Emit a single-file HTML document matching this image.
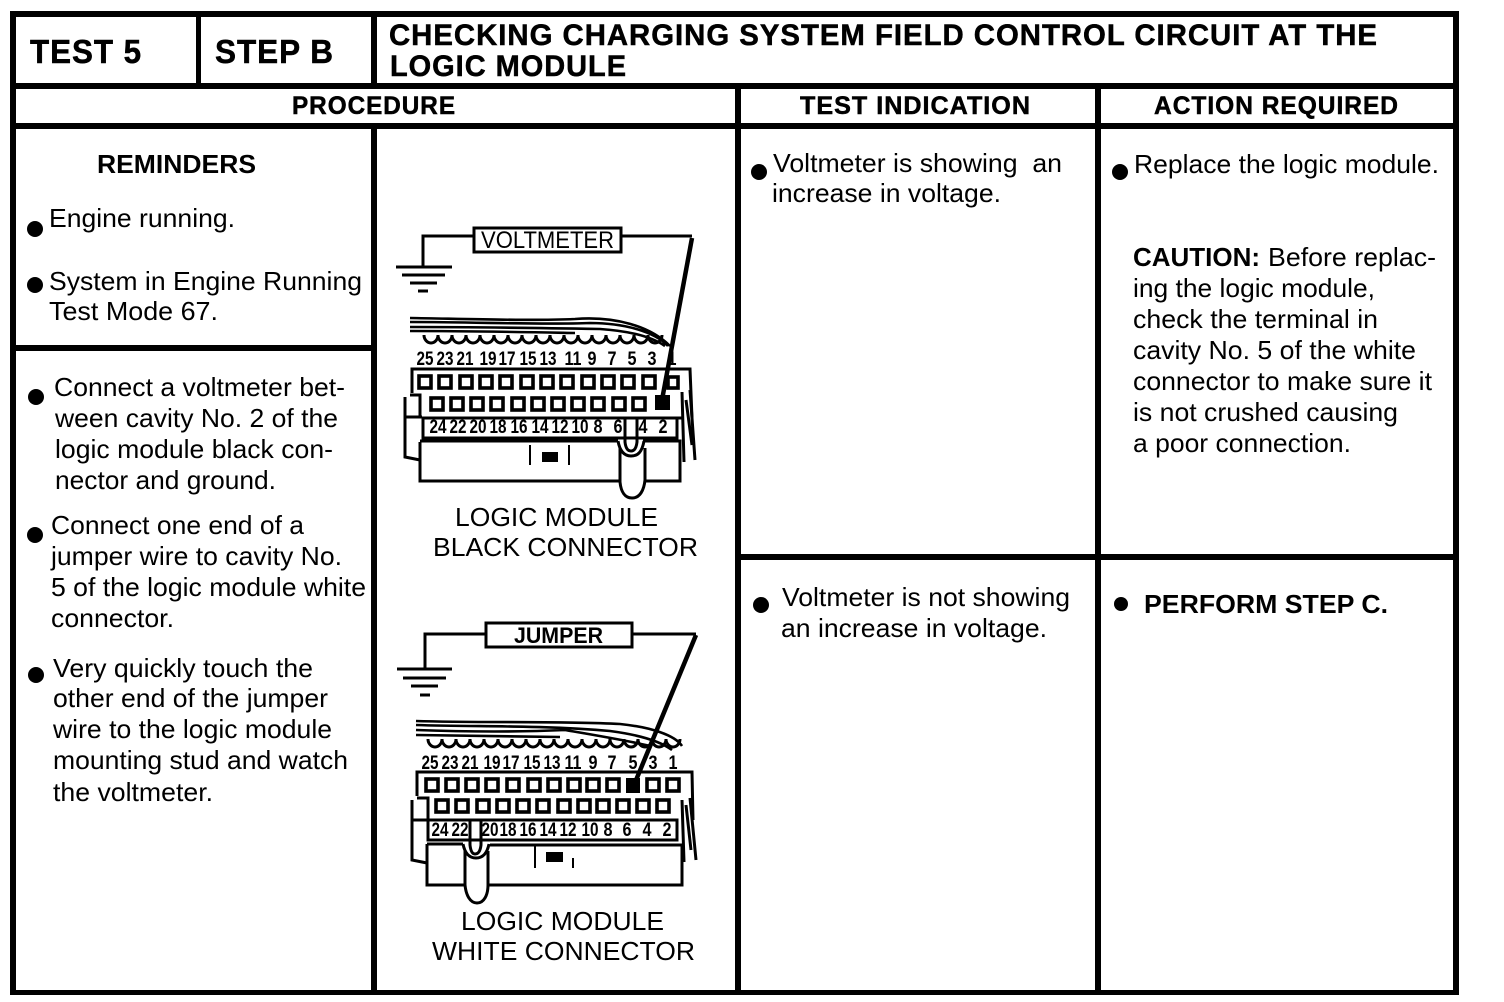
<!DOCTYPE html>
<html>
<head>
<meta charset="utf-8">
<style>
html,body{margin:0;padding:0;background:#fff}
svg{display:block}
text{font-family:"Liberation Sans",sans-serif;fill:#000;white-space:pre}
.b{font-size:26px}
.h{font-size:30px;font-weight:bold;stroke:#000;stroke-width:.5px;letter-spacing:1px}
.s{font-size:33px}
.m{font-size:25px}
.p,.q{font-size:19px;font-weight:bold;text-anchor:middle}
.l{fill:none;stroke:#000}
</style>
</head>
<body>
<svg width="1504" height="1002" viewBox="0 0 1504 1002" xmlns="http://www.w3.org/2000/svg">
<rect width="1504" height="1002" fill="#fff"/>
<!-- table frame -->
<g fill="#000">
<rect x="10" y="11" width="1449" height="6"/>
<rect x="10" y="990" width="1449" height="5"/>
<rect x="10" y="11" width="6" height="984"/>
<rect x="1453" y="11" width="6" height="984"/>
<rect x="10" y="83" width="1449" height="6"/>
<rect x="10" y="123" width="1449" height="6"/>
<rect x="196" y="11" width="5" height="75"/>
<rect x="371" y="11" width="6" height="75"/>
<rect x="371" y="123" width="6" height="870"/>
<rect x="735" y="86" width="6" height="907"/>
<rect x="1095" y="86" width="6" height="907"/>
<rect x="13" y="345" width="361" height="6"/>
<rect x="738" y="554" width="718" height="6"/>
</g>
<!-- headers -->
<text class="h s" x="30" y="63" textLength="112" lengthAdjust="spacingAndGlyphs">TEST 5</text>
<text class="h s" x="215" y="63" textLength="119" lengthAdjust="spacingAndGlyphs">STEP B</text>
<text class="h" x="389" y="45" textLength="989" lengthAdjust="spacingAndGlyphs">CHECKING CHARGING SYSTEM FIELD CONTROL CIRCUIT AT THE</text>
<text class="h" x="390" y="76" textLength="237" lengthAdjust="spacingAndGlyphs">LOGIC MODULE</text>
<text class="h m" x="292" y="114" textLength="164" lengthAdjust="spacingAndGlyphs">PROCEDURE</text>
<text class="h m" x="800" y="114" textLength="231" lengthAdjust="spacingAndGlyphs">TEST INDICATION</text>
<text class="h m" x="1154" y="114" textLength="245" lengthAdjust="spacingAndGlyphs">ACTION REQUIRED</text>
<!-- left column -->
<text class="b" x="97" y="173" font-weight="bold" textLength="159" lengthAdjust="spacingAndGlyphs">REMINDERS</text>
<circle cx="35" cy="229" r="8"/>
<text class="b" x="49" y="227" textLength="186" lengthAdjust="spacingAndGlyphs">Engine running.</text>
<circle cx="35" cy="285" r="8"/>
<text class="b" x="49" y="290" textLength="313" lengthAdjust="spacingAndGlyphs">System in Engine Running</text>
<text class="b" x="49" y="320" textLength="169" lengthAdjust="spacingAndGlyphs">Test Mode 67.</text>
<circle cx="36" cy="397" r="8"/>
<text class="b" x="54" y="396" textLength="291" lengthAdjust="spacingAndGlyphs">Connect a voltmeter bet-</text>
<text class="b" x="55" y="427" textLength="283" lengthAdjust="spacingAndGlyphs">ween cavity No. 2 of the</text>
<text class="b" x="55" y="458" textLength="278" lengthAdjust="spacingAndGlyphs">logic module black con-</text>
<text class="b" x="55" y="489" textLength="221" lengthAdjust="spacingAndGlyphs">nector and ground.</text>
<circle cx="35" cy="535" r="8"/>
<text class="b" x="51" y="534" textLength="253" lengthAdjust="spacingAndGlyphs">Connect one end of a</text>
<text class="b" x="51" y="565" textLength="291" lengthAdjust="spacingAndGlyphs">jumper wire to cavity No.</text>
<text class="b" x="51" y="596" textLength="315" lengthAdjust="spacingAndGlyphs">5 of the logic module white</text>
<text class="b" x="51" y="627" textLength="123" lengthAdjust="spacingAndGlyphs">connector.</text>
<circle cx="36" cy="675" r="8"/>
<text class="b" x="53" y="677" textLength="260" lengthAdjust="spacingAndGlyphs">Very quickly touch the</text>
<text class="b" x="53" y="707" textLength="275" lengthAdjust="spacingAndGlyphs">other end of the jumper</text>
<text class="b" x="53" y="738" textLength="279" lengthAdjust="spacingAndGlyphs">wire to the logic module</text>
<text class="b" x="53" y="769" textLength="295" lengthAdjust="spacingAndGlyphs">mounting stud and watch</text>
<text class="b" x="53" y="801" textLength="160" lengthAdjust="spacingAndGlyphs">the voltmeter.</text>
<!-- test indication -->
<circle cx="759" cy="172" r="8"/>
<text class="b" x="773" y="172" textLength="289" lengthAdjust="spacingAndGlyphs">Voltmeter is showing  an</text>
<text class="b" x="772" y="202" textLength="229" lengthAdjust="spacingAndGlyphs">increase in voltage.</text>
<circle cx="761" cy="605" r="8"/>
<text class="b" x="782" y="606" textLength="288" lengthAdjust="spacingAndGlyphs">Voltmeter is not showing</text>
<text class="b" x="781" y="637" textLength="266" lengthAdjust="spacingAndGlyphs">an increase in voltage.</text>
<!-- action required -->
<circle cx="1120" cy="172" r="8"/>
<text class="b" x="1134" y="173" textLength="305" lengthAdjust="spacingAndGlyphs">Replace the logic module.</text>
<text class="b" x="1133" y="266" font-weight="bold" textLength="127" lengthAdjust="spacingAndGlyphs">CAUTION:</text>
<text class="b" x="1268" y="266" textLength="168" lengthAdjust="spacingAndGlyphs">Before replac-</text>
<text class="b" x="1133" y="297" textLength="242" lengthAdjust="spacingAndGlyphs">ing the logic module,</text>
<text class="b" x="1133" y="328" textLength="245" lengthAdjust="spacingAndGlyphs">check the terminal in</text>
<text class="b" x="1133" y="359" textLength="283" lengthAdjust="spacingAndGlyphs">cavity No. 5 of the white</text>
<text class="b" x="1133" y="390" textLength="299" lengthAdjust="spacingAndGlyphs">connector to make sure it</text>
<text class="b" x="1133" y="421" textLength="265" lengthAdjust="spacingAndGlyphs">is not crushed causing</text>
<text class="b" x="1133" y="452" textLength="218" lengthAdjust="spacingAndGlyphs">a poor connection.</text>
<circle cx="1121" cy="604" r="7"/>
<text class="b" x="1144" y="613" font-weight="bold" textLength="244" lengthAdjust="spacingAndGlyphs">PERFORM STEP C.</text>
<!-- captions -->
<text class="b" x="455" y="526" textLength="203" lengthAdjust="spacingAndGlyphs">LOGIC MODULE</text>
<text class="b" x="433" y="556" textLength="265" lengthAdjust="spacingAndGlyphs">BLACK CONNECTOR</text>
<text class="b" x="461" y="930" textLength="203" lengthAdjust="spacingAndGlyphs">LOGIC MODULE</text>
<text class="b" x="432" y="960" textLength="263" lengthAdjust="spacingAndGlyphs">WHITE CONNECTOR</text>

<!-- DIAGRAM 1 -->
<rect x="474" y="228" width="147" height="24" fill="#fff" stroke="#000" stroke-width="3"/>
<text x="481" y="248" font-size="24" textLength="133" lengthAdjust="spacingAndGlyphs">VOLTMETER</text>
<path class="l" stroke-width="3" d="M473 236H423V266"/>
<path class="l" stroke-width="3" d="M396 267H452M402 275H445M410 283H437M418 291H428"/>
<path class="l" stroke-width="3" d="M622 236H692"/>
<path class="l" stroke-width="2.6" d="M410 318C470 319 530 321 575 319C615 316 650 326 670 346M410 322C480 322 540 325 590 323C625 323 655 332 668 346M410 327C480 327 540 328 600 329C630 331 652 337 665 346M410 331C470 331 520 332 575 333"/>
<path class="l" stroke-width="3" d="M424 335a7 8 0 0 0 14 0 7 8 0 0 0 14 0 7 8 0 0 0 14 0 7 8 0 0 0 14 0 7 8 0 0 0 14 0 7 8 0 0 0 14 0 7 8 0 0 0 14 0 7 8 0 0 0 14 0 7 8 0 0 0 14 0 7 8 0 0 0 14 0 7 8 0 0 0 14 0 7 8 0 0 0 14 0 7 8 0 0 0 14 0 7 8 0 0 0 14 0 7 8 0 0 0 14 0 7 8 0 0 0 14 0 7 8 0 0 0 14 0"/>
<text class="p" x="425" y="365" textLength="17" lengthAdjust="spacingAndGlyphs">25</text><text class="p" x="445" y="365" textLength="17" lengthAdjust="spacingAndGlyphs">23</text><text class="p" x="465" y="365" textLength="17" lengthAdjust="spacingAndGlyphs">21</text><text class="p" x="488" y="365" textLength="17" lengthAdjust="spacingAndGlyphs">19</text><text class="p" x="507" y="365" textLength="17" lengthAdjust="spacingAndGlyphs">17</text><text class="p" x="528" y="365" textLength="17" lengthAdjust="spacingAndGlyphs">15</text><text class="p" x="548" y="365" textLength="17" lengthAdjust="spacingAndGlyphs">13</text><text class="p" x="573" y="365" textLength="17" lengthAdjust="spacingAndGlyphs">11</text><text class="p" x="592" y="365" textLength="9" lengthAdjust="spacingAndGlyphs">9</text><text class="p" x="612" y="365" textLength="9" lengthAdjust="spacingAndGlyphs">7</text><text class="p" x="632" y="365" textLength="9" lengthAdjust="spacingAndGlyphs">5</text><text class="p" x="652" y="365" textLength="9" lengthAdjust="spacingAndGlyphs">3</text><text class="p" x="672" y="365" textLength="9" lengthAdjust="spacingAndGlyphs">1</text>
<text class="p" x="438" y="433" textLength="17" lengthAdjust="spacingAndGlyphs">24</text><text class="p" x="458" y="433" textLength="17" lengthAdjust="spacingAndGlyphs">22</text><text class="p" x="478" y="433" textLength="17" lengthAdjust="spacingAndGlyphs">20</text><text class="p" x="498" y="433" textLength="17" lengthAdjust="spacingAndGlyphs">18</text><text class="p" x="519" y="433" textLength="17" lengthAdjust="spacingAndGlyphs">16</text><text class="p" x="540" y="433" textLength="17" lengthAdjust="spacingAndGlyphs">14</text><text class="p" x="560" y="433" textLength="17" lengthAdjust="spacingAndGlyphs">12</text><text class="p" x="580" y="433" textLength="17" lengthAdjust="spacingAndGlyphs">10</text><text class="p" x="598" y="433" textLength="9" lengthAdjust="spacingAndGlyphs">8</text><text class="p" x="618" y="433" textLength="9" lengthAdjust="spacingAndGlyphs">6</text><text class="p" x="643" y="433" textLength="9" lengthAdjust="spacingAndGlyphs">4</text><text class="p" x="663" y="433" textLength="9" lengthAdjust="spacingAndGlyphs">2</text>
<path class="l" stroke-width="3" d="M412 393V369H690L692 418M410 395H420V417M423 418H677V438H423ZM420 442V481H620M644 481H680V441H643M618 441H420"/>
<path class="l" stroke-width="3" d="M405 397V457L420 460M405 417H422M682 392L684 462M682 418H677M690 390L695 460M686 400L692 445"/>
<path class="l" stroke-width="3" d="M625 417V442Q626 451 631 451Q636 451 637 442V417"/>
<path class="l" stroke-width="3" d="M618 441C620 452 625 456 631 456C638 456 642 452 644 441M620 448V482C621 492 625 498 632 498C640 498 644 490 645 480V448"/>
<path class="l" stroke-width="2" d="M530 445V465M569 445V465"/>
<rect x="542" y="452" width="16" height="10"/>
<g class="l" stroke-width="3.6">
<rect x="419" y="376" width="12" height="12"/><rect x="439" y="376" width="12" height="12"/><rect x="460" y="376" width="12" height="12"/><rect x="480" y="376" width="12" height="12"/><rect x="500" y="376" width="12" height="12"/><rect x="521" y="376" width="12" height="12"/><rect x="541" y="376" width="12" height="12"/><rect x="561" y="376" width="12" height="12"/><rect x="582" y="376" width="12" height="12"/><rect x="602" y="376" width="12" height="12"/><rect x="622" y="376" width="12" height="12"/><rect x="643" y="376" width="12" height="12"/><rect x="668" y="377" width="10" height="11"/>
<rect x="431" y="398" width="12" height="12"/><rect x="451" y="398" width="12" height="12"/><rect x="471" y="398" width="12" height="12"/><rect x="491" y="398" width="12" height="12"/><rect x="512" y="398" width="12" height="12"/><rect x="532" y="398" width="12" height="12"/><rect x="552" y="398" width="12" height="12"/><rect x="572" y="398" width="12" height="12"/><rect x="592" y="398" width="12" height="12"/><rect x="613" y="398" width="12" height="12"/><rect x="633" y="398" width="12" height="12"/>
</g>
<rect x="655" y="395" width="15" height="15"/>
<path class="l" stroke-width="4.5" d="M692 238L662 400"/>

<!-- DIAGRAM 2 -->
<rect x="486" y="623" width="146" height="24" fill="#fff" stroke="#000" stroke-width="3"/>
<text x="514" y="643" font-size="22" font-weight="bold" textLength="89" lengthAdjust="spacingAndGlyphs">JUMPER</text>
<path class="l" stroke-width="3" d="M485 634H425V668"/>
<path class="l" stroke-width="3" d="M397 669H452M403 678H446M411 686H438M420 695H430"/>
<path class="l" stroke-width="3" d="M632 634H696"/>
<path class="l" stroke-width="2.6" d="M416 721C480 723 560 721 620 724C650 727 675 735 682 746M416 725C480 727 540 725 610 731C640 735 660 741 672 750M416 730C470 732 520 732 565 730C600 736 630 741 650 746M416 735C470 736 520 736 560 737"/>
<path class="l" stroke-width="3" d="M428 739a7 8 0 0 0 14 0 7 8 0 0 0 14 0 7 8 0 0 0 14 0 7 8 0 0 0 14 0 7 8 0 0 0 14 0 7 8 0 0 0 14 0 7 8 0 0 0 14 0 7 8 0 0 0 14 0 7 8 0 0 0 14 0 7 8 0 0 0 14 0 7 8 0 0 0 14 0 7 8 0 0 0 14 0 7 8 0 0 0 14 0 7 8 0 0 0 14 0 7 8 0 0 0 14 0 7 8 0 0 0 14 0 7 8 0 0 0 14 0 7 8 0 0 0 14 0"/>
<text class="q" x="430" y="769" textLength="17" lengthAdjust="spacingAndGlyphs">25</text><text class="q" x="450" y="769" textLength="17" lengthAdjust="spacingAndGlyphs">23</text><text class="q" x="470" y="769" textLength="17" lengthAdjust="spacingAndGlyphs">21</text><text class="q" x="492" y="769" textLength="17" lengthAdjust="spacingAndGlyphs">19</text><text class="q" x="511" y="769" textLength="17" lengthAdjust="spacingAndGlyphs">17</text><text class="q" x="532" y="769" textLength="17" lengthAdjust="spacingAndGlyphs">15</text><text class="q" x="552" y="769" textLength="17" lengthAdjust="spacingAndGlyphs">13</text><text class="q" x="573" y="769" textLength="17" lengthAdjust="spacingAndGlyphs">11</text><text class="q" x="593" y="769" textLength="9" lengthAdjust="spacingAndGlyphs">9</text><text class="q" x="612" y="769" textLength="9" lengthAdjust="spacingAndGlyphs">7</text><text class="q" x="633" y="769" textLength="9" lengthAdjust="spacingAndGlyphs">5</text><text class="q" x="653" y="769" textLength="9" lengthAdjust="spacingAndGlyphs">3</text><text class="q" x="673" y="769" textLength="9" lengthAdjust="spacingAndGlyphs">1</text>
<text class="q" x="440" y="836" textLength="17" lengthAdjust="spacingAndGlyphs">24</text><text class="q" x="460" y="836" textLength="17" lengthAdjust="spacingAndGlyphs">22</text><text class="q" x="490" y="836" textLength="17" lengthAdjust="spacingAndGlyphs">20</text><text class="q" x="508" y="836" textLength="17" lengthAdjust="spacingAndGlyphs">18</text><text class="q" x="528" y="836" textLength="17" lengthAdjust="spacingAndGlyphs">16</text><text class="q" x="548" y="836" textLength="17" lengthAdjust="spacingAndGlyphs">14</text><text class="q" x="568" y="836" textLength="17" lengthAdjust="spacingAndGlyphs">12</text><text class="q" x="590" y="836" textLength="17" lengthAdjust="spacingAndGlyphs">10</text><text class="q" x="608" y="836" textLength="9" lengthAdjust="spacingAndGlyphs">8</text><text class="q" x="627" y="836" textLength="9" lengthAdjust="spacingAndGlyphs">6</text><text class="q" x="647" y="836" font-size="14" textLength="9" lengthAdjust="spacingAndGlyphs">4</text><text class="q" x="667" y="836" textLength="9" lengthAdjust="spacingAndGlyphs">2</text>
<path class="l" stroke-width="3" d="M417 796V772H692L693 820M417 798H428V820M428 820H677V840H428ZM427 844V885H465M488 885H682V845H490M463 844H427"/>
<path class="l" stroke-width="3" d="M412 800V860L427 863M412 820H428M682 800L684 862M690 798L696 860M686 805L691 850"/>
<path class="l" stroke-width="3" d="M470 820V845Q471 854 475 854Q480 854 481 845V820"/>
<path class="l" stroke-width="3" d="M463 844C465 854 470 858 476 858C482 858 487 854 489 844M465 851V885C466 895 470 903 477 903C484 903 488 895 488 885V851"/>
<path class="l" stroke-width="2" d="M535 845V868M573 858V868"/>
<rect x="546" y="852" width="17" height="10"/>
<g class="l" stroke-width="3.6">
<rect x="426" y="779" width="12" height="12"/><rect x="446" y="779" width="12" height="12"/><rect x="466" y="779" width="12" height="12"/><rect x="486" y="779" width="12" height="12"/><rect x="507" y="779" width="12" height="12"/><rect x="528" y="779" width="12" height="12"/><rect x="548" y="779" width="12" height="12"/><rect x="568" y="779" width="12" height="12"/><rect x="587" y="779" width="12" height="12"/><rect x="607" y="779" width="12" height="12"/><rect x="647" y="779" width="12" height="12"/><rect x="667" y="779" width="12" height="12"/>
<rect x="436" y="800" width="12" height="12"/><rect x="456" y="800" width="12" height="12"/><rect x="477" y="800" width="12" height="12"/><rect x="497" y="800" width="12" height="12"/><rect x="517" y="800" width="12" height="12"/><rect x="537" y="800" width="12" height="12"/><rect x="558" y="800" width="12" height="12"/><rect x="578" y="800" width="12" height="12"/><rect x="597" y="800" width="12" height="12"/><rect x="617" y="800" width="12" height="12"/><rect x="637" y="800" width="12" height="12"/><rect x="657" y="800" width="12" height="12"/>
</g>
<rect x="626" y="778" width="14" height="15"/>
<path class="l" stroke-width="4.5" d="M696 635L634 785"/>
</svg>
</body>
</html>
